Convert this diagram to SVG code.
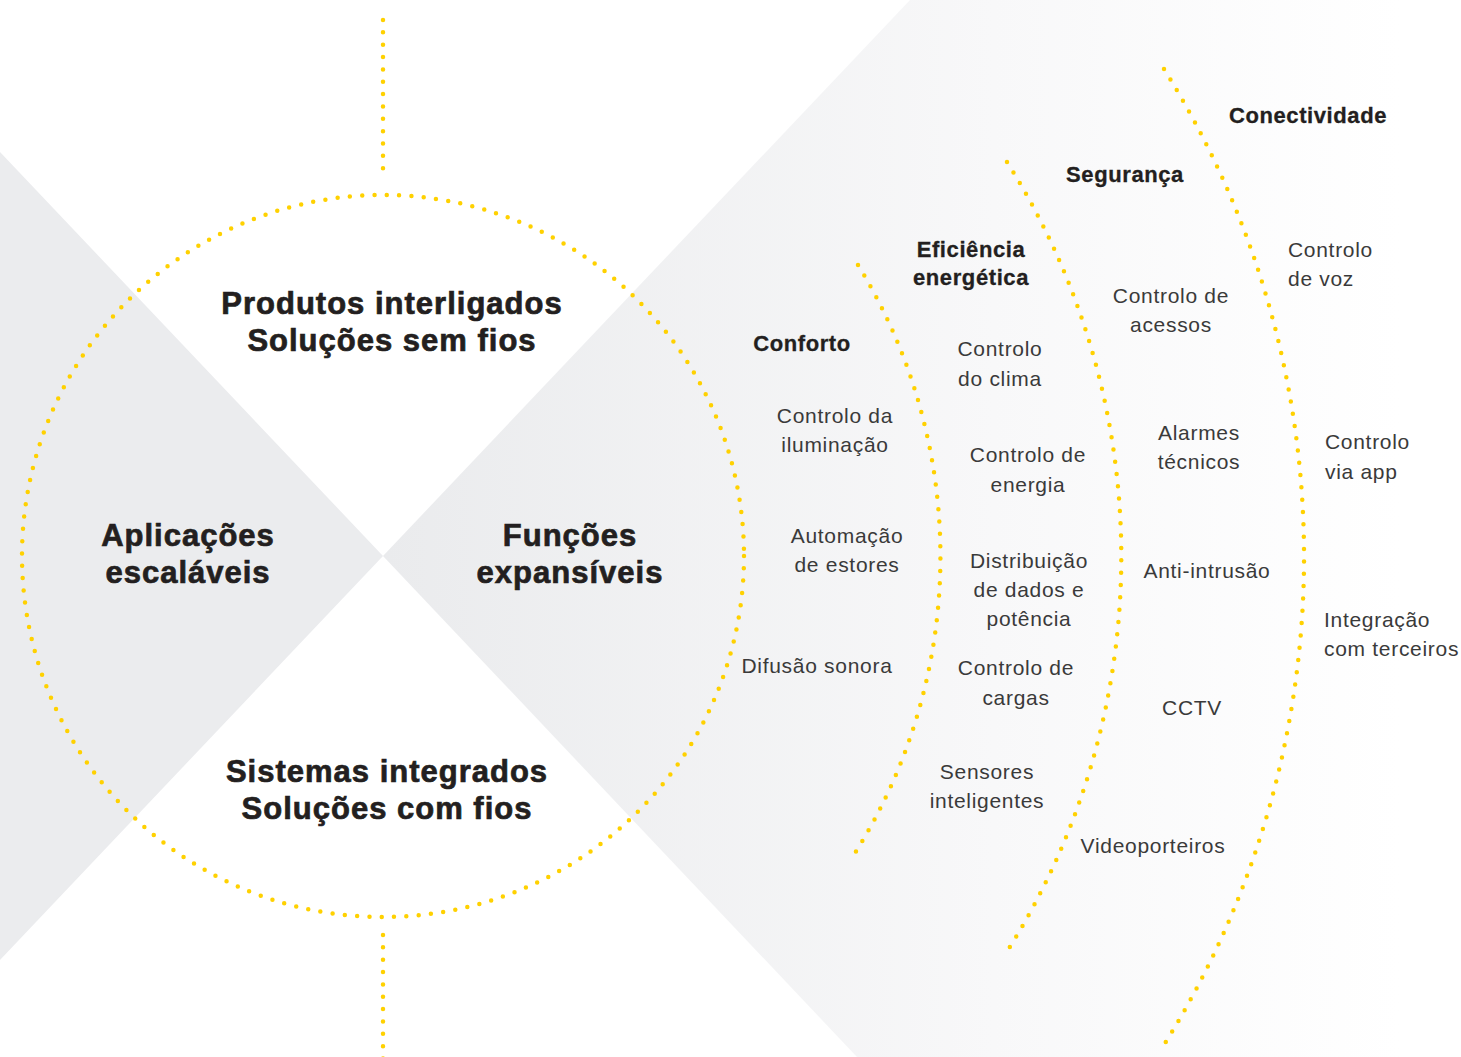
<svg xmlns="http://www.w3.org/2000/svg" width="1461" height="1057" viewBox="0 0 1461 1057">
<defs>
<linearGradient id="fade" gradientUnits="userSpaceOnUse" x1="383" y1="0" x2="1400" y2="0">
<stop offset="0" stop-color="#eaebed"/>
<stop offset="0.6" stop-color="#f8f8f9"/>
<stop offset="1" stop-color="#ffffff"/>
</linearGradient>
<style>
.dots{fill:none;stroke:#ffd100;stroke-width:4.5;stroke-linecap:round;stroke-dasharray:0 12.35}
.big{font-family:"Liberation Sans",Arial,sans-serif;font-weight:bold;font-size:31px;letter-spacing:1px;fill:#231f20;stroke:#231f20;stroke-width:0.7px;text-anchor:middle}
.head{font-family:"Liberation Sans",Arial,sans-serif;font-weight:bold;font-size:22px;letter-spacing:0.6px;fill:#231f20;stroke:#231f20;stroke-width:0.3px;text-anchor:middle}
.item{font-family:"Liberation Sans",Arial,sans-serif;font-size:21px;letter-spacing:0.7px;fill:#3a3a3a;text-anchor:middle}
.left{text-anchor:start}
</style>
</defs>
<rect width="1461" height="1057" fill="#ffffff"/>
<g id="background">
<polygon points="0,152 383,556 0,960" fill="#ebecee"/>
<polygon points="383,556 910,0 1461,0 1461,1057 857,1057" fill="url(#fade)"/>
</g>
<g id="connectors">
<line class="dots" x1="383" y1="20" x2="383" y2="179"/>
<line class="dots" x1="383" y1="935" x2="383" y2="1060"/>
<circle class="dots" cx="383" cy="556" r="361"/>
<path class="dots" d="M 858 265 A 557 557 0 0 1 855 853"/>
<path class="dots" d="M 1007 162 A 739 739 0 0 1 1008 950"/>
<path class="dots" d="M 1164 69 A 920 920 0 0 1 1162 1048"/>
</g>
<g id="node-produtos">
<text class="big" x="392" y="314">Produtos interligados</text>
<text class="big" x="392" y="351">Soluções sem fios</text>
</g>
<g id="node-aplicacoes">
<text class="big" x="188" y="546">Aplicações</text>
<text class="big" x="188" y="583">escaláveis</text>
</g>
<g id="node-funcoes">
<text class="big" x="570" y="546">Funções</text>
<text class="big" x="570" y="583">expansíveis</text>
</g>
<g id="node-sistemas">
<text class="big" x="387" y="782">Sistemas integrados</text>
<text class="big" x="387" y="819">Soluções com fios</text>
</g>
<g id="node-conforto">
<text class="head" x="802" y="351">Conforto</text>
<text class="item" x="835" y="423">Controlo da</text>
<text class="item" x="835" y="452">iluminação</text>
<text class="item" x="847" y="543">Automação</text>
<text class="item" x="847" y="572">de estores</text>
<text class="item" x="817" y="673">Difusão sonora</text>
</g>
<g id="node-eficiencia">
<text class="head" x="971" y="257">Eficiência</text>
<text class="head" x="971" y="285">energética</text>
<text class="item" x="1000" y="356">Controlo</text>
<text class="item" x="1000" y="386">do clima</text>
<text class="item" x="1028" y="462">Controlo de</text>
<text class="item" x="1028" y="492">energia</text>
<text class="item" x="1029" y="568">Distribuição</text>
<text class="item" x="1029" y="597">de dados e</text>
<text class="item" x="1029" y="626">potência</text>
<text class="item" x="1016" y="675">Controlo de</text>
<text class="item" x="1016" y="705">cargas</text>
<text class="item" x="987" y="779">Sensores</text>
<text class="item" x="987" y="808">inteligentes</text>
</g>
<g id="node-seguranca">
<text class="head" x="1125" y="182">Segurança</text>
<text class="item" x="1171" y="303">Controlo de</text>
<text class="item" x="1171" y="332">acessos</text>
<text class="item" x="1199" y="440">Alarmes</text>
<text class="item" x="1199" y="469">técnicos</text>
<text class="item" x="1207" y="578">Anti-intrusão</text>
<text class="item" x="1192" y="715">CCTV</text>
<text class="item" x="1153" y="853">Videoporteiros</text>
</g>
<g id="node-conectividade">
<text class="head" x="1308" y="123">Conectividade</text>
<text class="item left" x="1288" y="257">Controlo</text>
<text class="item left" x="1288" y="286">de voz</text>
<text class="item left" x="1325" y="449">Controlo</text>
<text class="item left" x="1325" y="479">via app</text>
<text class="item left" x="1324" y="627">Integração</text>
<text class="item left" x="1324" y="656">com terceiros</text>
</g>
</svg>
